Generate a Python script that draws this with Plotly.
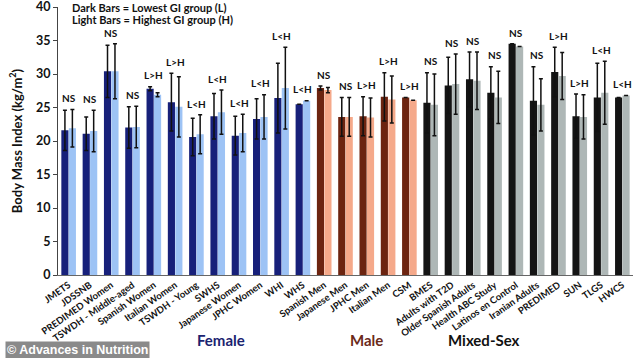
import plotly.graph_objects as go

categories = ["JMETS", "JDSSNB", "PREDIMED Women", "TSWDH - Middle-aged", "Spanish Women",
              "Italian Women", "TSWDH - Young", "SWHS", "Japanese Women", "JPHC Women", "WHI", "WHS",
              "Spanish Men", "Japanese Men", "JPHC Men", "Italian Men", "CSM",
              "BMES", "Adults with T2D", "Older Spanish Adults", "Health ABC Study",
              "Latinos en Control", "Iranian Adults", "PREDIMED", "SUN", "TLGS", "HWCS"]
groups = ["Female"] * 12 + ["Male"] * 5 + ["Mixed-Sex"] * 10

low_gi_bmi = [21.6, 21.1, 30.4, 22.0, 27.8, 25.8, 20.6, 23.7, 20.8, 23.3, 26.4, 25.5,
              27.9, 23.6, 23.7, 26.6, 26.5,
              25.7, 28.3, 29.2, 27.2, 34.5, 26.0, 30.3, 23.7, 26.5, 26.5]
high_gi_bmi = [21.9, 21.5, 30.4, 22.1, 26.9, 25.1, 21.0, 24.3, 21.2, 23.6, 27.9, 26.0,
               27.6, 23.6, 23.5, 26.2, 26.1,
               25.4, 28.5, 29.0, 26.5, 34.1, 25.4, 29.7, 23.6, 27.2, 26.8]
low_gi_sd = [3.0, 2.5, 3.9, 3.1, 0.3, 4.3, 2.8, 3.4, 2.9, 3.0, 5.2, None,
             0.3, 2.9, 2.9, 3.6, None,
             4.5, 4.2, 4.1, 3.9, None, 5.1, 3.7, 3.3, 5.1, None]
high_gi_sd = [2.8, 3.1, 4.1, 3.1, 0.3, 4.5, 2.9, 3.3, 2.8, 3.3, 6.1, None,
              0.4, 2.9, 2.9, 3.5, None,
              4.6, 4.5, 4.3, 3.9, None, 3.9, 3.5, 3.3, 4.7, None]
significance = ["NS", "NS", "NS", "NS", "L>H", "L>H", "L<H", "L<H", "L<H", "L<H", "L<H", "L<H",
                "NS", "NS", "L>H", "L>H", "L>H",
                "NS", "NS", "NS", "NS", "NS", "NS", "L>H", "L>H", "L<H", "L<H"]
y_ticks = [0, 5, 10, 15, 20, 25, 30, 35, 40]

dark_col = {"Female": "#17207a", "Male": "#6c2410", "Mixed-Sex": "#141414"}
light_col = {"Female": "#9dc3f5", "Male": "#f5a98a", "Mixed-Sex": "#aeb7b6"}
group_label_col = {"Female": "#1b2370", "Male": "#6b2a1a", "Mixed-Sex": "#111111"}

FONT = "Lato"

fig = go.Figure()
fig.add_trace(go.Bar(
    x=categories, y=low_gi_bmi, name="Lowest GI (L)",
    marker=dict(color=[dark_col[g] for g in groups], line=dict(width=0)),
    error_y=dict(type="data", array=low_gi_sd, color="#111111", thickness=1.5, width=2),
))
fig.add_trace(go.Bar(
    x=categories, y=high_gi_bmi, name="Highest GI (H)",
    marker=dict(color=[light_col[g] for g in groups], line=dict(width=0)),
    error_y=dict(type="data", array=high_gi_sd, color="#111111", thickness=1.5, width=2),
))

annotations = []
for i, c in enumerate(categories):
    tops = [low_gi_bmi[i] + (low_gi_sd[i] or 0), high_gi_bmi[i] + (high_gi_sd[i] or 0)]
    annotations.append(dict(x=c, y=max(tops) + 0.5, xref="x", yref="y", text=significance[i],
                            showarrow=False, yanchor="bottom",
                            font=dict(family=FONT, size=10, color="#111111", weight="bold")))

for txt, yy in [("Dark Bars = Lowest GI group (L)", 0.998), ("Light Bars = Highest GI group (H)", 0.953)]:
    annotations.append(dict(x=0.021, y=yy, xref="paper", yref="paper", xanchor="left", yanchor="middle",
                            align="left", showarrow=False, text=txt,
                            font=dict(family=FONT, size=11, color="#111111", weight="bold")))

group_x = {"Female": 0.238, "Male": 0.537, "Mixed-Sex": 0.807}
for g in ["Female", "Male", "Mixed-Sex"]:
    annotations.append(dict(x=group_x[g], y=-0.285, xref="paper", yref="paper", showarrow=False,
                            text=g, font=dict(family=FONT, size=15, color=group_label_col[g], weight="bold")))

annotations.append(dict(x=-0.092, y=-0.281, xref="paper", yref="paper", xanchor="left", yanchor="middle",
                        showarrow=False, text="© Advances in Nutrition", bgcolor="#8a8a8a", borderpad=1,
                        font=dict(family="Liberation Sans", size=12.5, color="white", weight="bold")))

fig.update_layout(
    width=634, height=358,
    margin=dict(l=58, r=1, t=7, b=83, autoexpand=False),
    paper_bgcolor="white", plot_bgcolor="white",
    barmode="group", bargap=0.3, bargroupgap=0.04,
    showlegend=False,
    annotations=annotations,
    font=dict(family=FONT, color="#111111"),
)
fig.update_xaxes(
    type="category", tickangle=-35, showline=True, linecolor="#666666", linewidth=1,
    ticks="", tickfont=dict(family=FONT, size=9.5, color="#111111", weight="bold"),
    range=[-0.5, 26.5], automargin=False,
)
fig.update_yaxes(
    range=[0, 40], tickvals=y_ticks, showgrid=False, zeroline=False, ticklabeloverflow="allow",
    showline=True, linecolor="#444444", linewidth=1, ticks="outside", ticklen=4, tickcolor="#444444",
    tickfont=dict(family=FONT, size=12.5, color="#111111", weight="bold"), automargin=False,
    title=dict(text="Body Mass Index (kg/m<sup>2</sup>)", standoff=10,
               font=dict(family=FONT, size=13, color="#111111", weight="bold")),
)

fig.write_html("out.html", config={"displayModeBar": False},
               post_script="document.body.style.margin='0';document.body.style.overflow='hidden';")
